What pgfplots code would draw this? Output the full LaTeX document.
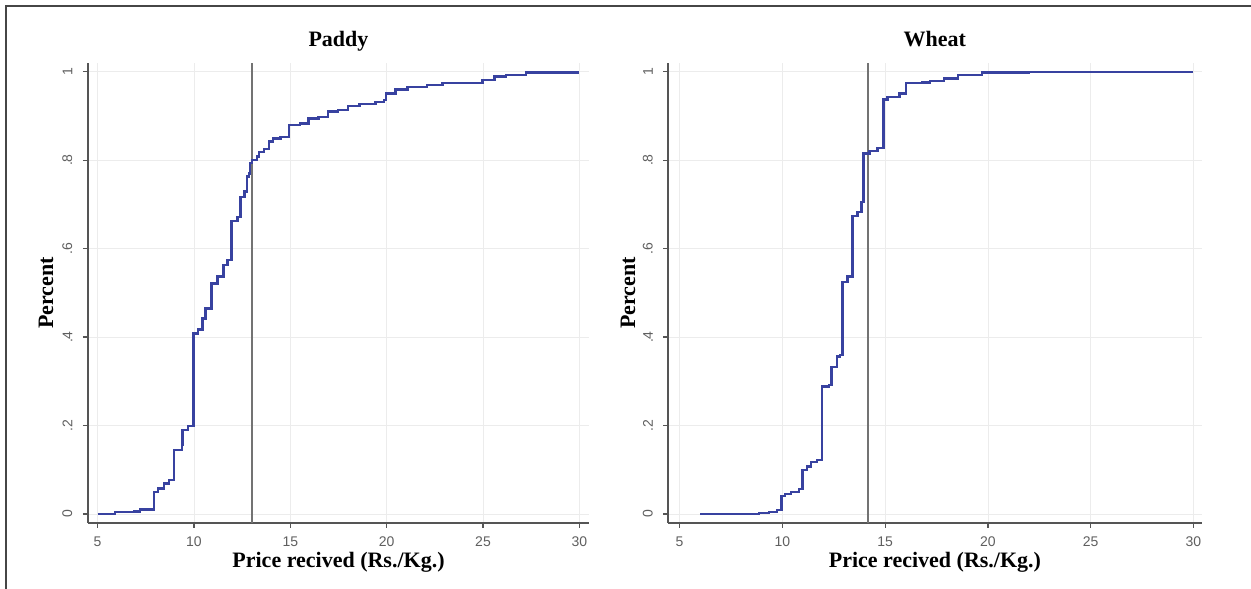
\documentclass[border=0pt]{standalone}
\usepackage{pgfplots}
\pgfplotsset{compat=1.18}
\usepackage{fontspec}
\setmainfont{Liberation Serif}
\newfontfamily\ticksf{Liberation Sans}

\definecolor{cdfblue}{RGB}{56,66,160}
\definecolor{axisgray}{RGB}{85,85,85}
\definecolor{refgray}{RGB}{115,115,115}
\definecolor{ticktext}{RGB}{95,95,95}
\definecolor{gridgray}{RGB}{236,236,236}
\definecolor{framegray}{RGB}{70,70,70}

\pgfplotsset{
  stata/.style={
    scale only axis,
    height=460pt,
    ymin=-0.0204, ymax=1.0197,
    xtick={5,10,...,30},
    ytick={0,0.2,0.4,0.6,0.8,1},
    yticklabels={0,.2,.4,.6,.8,1},
    axis x line*=bottom, axis y line*=left,
    axis line style={-, draw=axisgray, line width=1.8pt},
    tick align=outside,
    major tick length=5pt,
    every tick/.style={axisgray, line width=1.2pt},
    grid=major,
    major grid style={gridgray, line width=0.8pt},
    tick label style={font=\ticksf\fontsize{14}{14}\selectfont, text=ticktext},
    /pgf/number format/assume math mode=true,
    yticklabel style={rotate=90, anchor=south},
    xticklabel shift=5pt,
    yticklabel shift=7pt,
    every axis title/.style={at={(axis description cs:0.5,1)}, anchor=base,
      yshift=16pt, font=\bfseries\fontsize{22}{22}\selectfont},
    every axis x label/.style={at={(axis description cs:0.5,0)}, anchor=base,
      yshift=-45pt, font=\bfseries\fontsize{22}{22}\selectfont},
    every axis y label/.style={rotate=90, anchor=center,
      font=\bfseries\fontsize{22}{22}\selectfont},
    xlabel={Price recived (Rs./Kg.)},
    ylabel={Percent},
  }
}

\begin{document}
\begin{tikzpicture}
\path[use as bounding box] (0pt,0pt) rectangle (1251pt,589pt);
\draw[framegray, line width=1.5pt] (6pt,0pt) -- (6pt,583pt) -- (1251pt,583pt);

% Paddy
\begin{axis}[stata,
  at={(87.8pt,66pt)}, anchor=south west,
  width=501.4pt,
  xmin=4.49, xmax=30.51,
  title={Paddy},
  ylabel style={at={(axis description cs:-0.0834,0.5)}},
]
\addplot[refgray, line width=2pt] coordinates {(13,-0.0204) (13,1.0197)};
\addplot[const plot, cdfblue, line width=2.4pt] coordinates {
  (5,0) (5.9,0.004) (6.9,0.006) (7.2,0.01) (7.94,0.05) (8.14,0.058)
  (8.45,0.069) (8.7,0.077) (8.96,0.145) (9.37,0.156) (9.41,0.19)
  (9.68,0.199) (9.97,0.408) (10.2,0.417) (10.44,0.442) (10.6,0.465)
  (10.91,0.521) (11.22,0.537) (11.53,0.563) (11.73,0.574) (11.94,0.663)
  (12.25,0.672) (12.41,0.717) (12.62,0.729) (12.76,0.763) (12.86,0.770)
  (12.92,0.793) (13.0,0.80) (13.28,0.808) (13.38,0.819) (13.64,0.825)
  (13.89,0.842) (14.1,0.849) (14.5,0.853) (14.92,0.879) (15.5,0.883)
  (15.94,0.894) (16.46,0.898) (16.97,0.91) (17.48,0.913) (18.0,0.922)
  (18.6,0.927) (19.43,0.932) (19.85,0.936) (19.98,0.951) (20.46,0.96)
  (21.08,0.965) (22.1,0.970) (22.9,0.974) (24.98,0.981) (25.6,0.989)
  (26.2,0.992) (27.24,0.998) (30,0.998)
};
\end{axis}

% Wheat
\begin{axis}[stata,
  at={(668.3pt,66pt)}, anchor=south west,
  width=533.2pt,
  xmin=4.45, xmax=30.39,
  title={Wheat},
  ylabel style={at={(axis description cs:-0.0756,0.5)}},
]
\addplot[refgray, line width=2pt] coordinates {(14.18,-0.0204) (14.18,1.0197)};
\addplot[const plot, cdfblue, line width=2.4pt] coordinates {
  (6,0) (8.86,0.002) (9.34,0.005) (9.74,0.009) (9.95,0.04) (10.13,0.045)
  (10.42,0.05) (10.81,0.056) (10.97,0.1) (11.2,0.107) (11.4,0.118)
  (11.69,0.122) (11.92,0.288) (12.28,0.292) (12.38,0.333) (12.67,0.356)
  (12.8,0.36) (12.92,0.525) (13.16,0.537) (13.41,0.674) (13.65,0.683)
  (13.85,0.706) (13.94,0.815) (14.24,0.821) (14.63,0.827) (14.92,0.937)
  (15.12,0.943) (15.7,0.951) (16.0,0.974) (16.78,0.976) (17.17,0.979)
  (17.86,0.985) (18.54,0.992) (19.72,0.998) (21.97,1.0) (30,1.0)
};
\end{axis}
\end{tikzpicture}
\end{document}
